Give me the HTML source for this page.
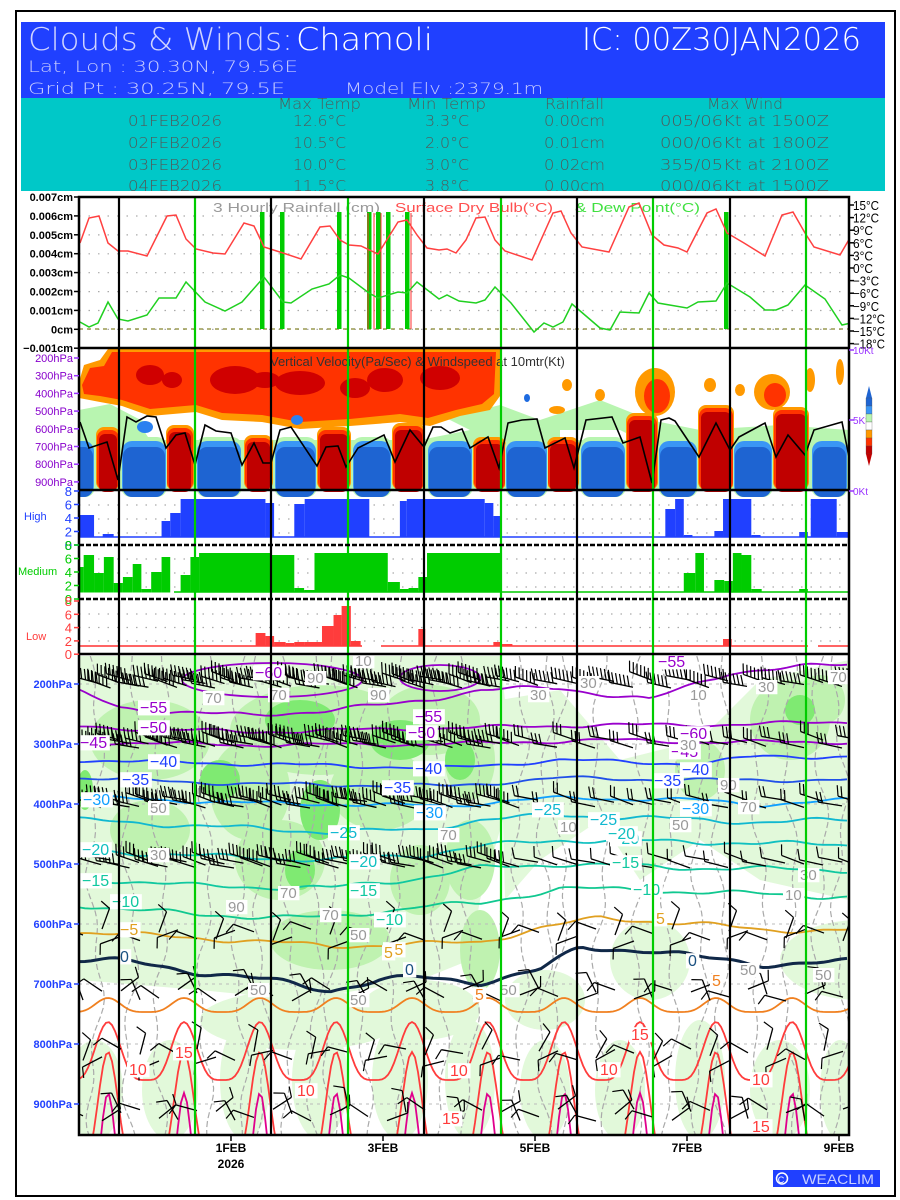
<!DOCTYPE html>
<html><head><meta charset="utf-8"><style>body{margin:0;background:#fff}svg{display:block}</style></head>
<body>
<svg id="s" width="900" height="1200" xmlns="http://www.w3.org/2000/svg" font-family="Liberation Sans, sans-serif">
<rect x="0" y="0" width="900" height="1200" fill="#fff"/>
<rect x="16" y="11" width="879" height="1185" fill="none" stroke="#000" stroke-width="2"/>
<rect x="21" y="22" width="864" height="76" fill="#2040ff"/>
<rect x="21" y="98" width="864" height="93" fill="#00c8c8"/>
<g font-family="DejaVu Sans, Liberation Sans, sans-serif" font-weight="200">
<text x="28" y="50" font-size="31" fill="#d0d4ff" textLength="265" lengthAdjust="spacingAndGlyphs">Clouds &amp; Winds:</text>
<text x="296" y="50" font-size="31" fill="#fff" textLength="137" lengthAdjust="spacingAndGlyphs">Chamoli</text>
<text x="582" y="50" font-size="31" fill="#fff" textLength="279" lengthAdjust="spacingAndGlyphs">IC: 00Z30JAN2026</text>
<text x="28" y="72" font-size="16" fill="#c8ccff" textLength="270" lengthAdjust="spacingAndGlyphs">Lat, Lon : 30.30N, 79.56E</text>
<text x="28" y="94" font-size="16" fill="#c8ccff" textLength="257" lengthAdjust="spacingAndGlyphs">Grid Pt  : 30.25N, 79.5E</text>
<text x="345" y="94" font-size="16" fill="#c8ccff" textLength="198" lengthAdjust="spacingAndGlyphs">Model Elv :2379.1m</text>
<g font-size="15" fill="#505a5a">
<text x="278" y="109" textLength="83" lengthAdjust="spacingAndGlyphs">Max Temp</text>
<text x="407" y="109" textLength="79" lengthAdjust="spacingAndGlyphs">Min Temp</text>
<text x="545" y="109" textLength="59" lengthAdjust="spacingAndGlyphs">Rainfall</text>
<text x="707" y="109" textLength="76" lengthAdjust="spacingAndGlyphs">Max Wind</text>
<text x="128" y="126" textLength="94" lengthAdjust="spacingAndGlyphs">01FEB2026</text><text x="293" y="126" textLength="53" lengthAdjust="spacingAndGlyphs">12.6°C</text><text x="425" y="126" textLength="44" lengthAdjust="spacingAndGlyphs">3.3°C</text><text x="544" y="126" textLength="61" lengthAdjust="spacingAndGlyphs">0.00cm</text><text x="660" y="126" textLength="169" lengthAdjust="spacingAndGlyphs">005/06Kt at 1500Z</text>
<text x="128" y="148" textLength="94" lengthAdjust="spacingAndGlyphs">02FEB2026</text><text x="293" y="148" textLength="53" lengthAdjust="spacingAndGlyphs">10.5°C</text><text x="425" y="148" textLength="44" lengthAdjust="spacingAndGlyphs">2.0°C</text><text x="544" y="148" textLength="61" lengthAdjust="spacingAndGlyphs">0.01cm</text><text x="660" y="148" textLength="169" lengthAdjust="spacingAndGlyphs">000/06Kt at 1800Z</text>
<text x="128" y="170" textLength="94" lengthAdjust="spacingAndGlyphs">03FEB2026</text><text x="293" y="170" textLength="53" lengthAdjust="spacingAndGlyphs">10.0°C</text><text x="425" y="170" textLength="44" lengthAdjust="spacingAndGlyphs">3.0°C</text><text x="544" y="170" textLength="61" lengthAdjust="spacingAndGlyphs">0.02cm</text><text x="660" y="170" textLength="169" lengthAdjust="spacingAndGlyphs">355/05Kt at 2100Z</text>
<text x="128" y="191" textLength="94" lengthAdjust="spacingAndGlyphs">04FEB2026</text><text x="293" y="191" textLength="53" lengthAdjust="spacingAndGlyphs">11.5°C</text><text x="425" y="191" textLength="44" lengthAdjust="spacingAndGlyphs">3.8°C</text><text x="544" y="191" textLength="61" lengthAdjust="spacingAndGlyphs">0.00cm</text><text x="660" y="191" textLength="169" lengthAdjust="spacingAndGlyphs">000/06Kt at 1500Z</text>
</g></g>
<rect x="21" y="191" width="864" height="5" fill="#fff"/>
<g id="g"></g>
<rect x="773" y="1170" width="107" height="17" fill="#2040ff"/>
<circle cx="782" cy="1178.5" r="5.5" fill="none" stroke="#fff" stroke-width="1.5"/>
<text x="781" y="1183" font-size="9" fill="#fff" text-anchor="middle">C</text>
<text x="802" y="1184" font-size="14" fill="#c8d0ff" textLength="72" lengthAdjust="spacingAndGlyphs">WEACLIM</text>
</svg>
<script>
var G=document.getElementById('g'),NS='http://www.w3.org/2000/svg';
function el(t,a,txt,p){var e=document.createElementNS(NS,t);for(var k in a)e.setAttribute(k,a[k]);if(txt!=null)e.textContent=txt;(p||G).appendChild(e);return e;}
function pl(pts,a,p){a.points=pts.map(function(q){return q[0].toFixed(1)+','+q[1].toFixed(1)}).join(' ');if(!a.fill)a.fill='none';return el('polyline',a,null,p);}
function pg(pts,fill,p){return el('polygon',{points:pts.map(function(q){return q[0]+','+q[1]}).join(' '),fill:fill},null,p);}
var X0=79,X1=849;
var clip=el('clipPath',{id:'c1'});el('rect',{x:X0,y:197,width:X1-X0,height:938},null,clip);
var P=el('g',{'clip-path':'url(#c1)'});
for(var v=0;v<8;v++){var y=216+v*18.9;el('line',{x1:X0,y1:y,x2:X1,y2:y,stroke:'#aaa','stroke-width':1.2,'stroke-dasharray':'1.5,8'},null,P);}
el('line',{x1:X0,y1:329,x2:X1,y2:329,stroke:'#9a9a50','stroke-width':1.5,'stroke-dasharray':'4,4'},null,P);
el('text',{x:213,y:212,'font-size':13,fill:'#999',textLength:167,lengthAdjust:'spacingAndGlyphs'},'3 Hourly Rainfall (cm)',P);
el('text',{x:395,y:212,'font-size':13,fill:'#ff5050',textLength:158,lengthAdjust:'spacingAndGlyphs'},'Surface Dry Bulb(°C)',P);
el('text',{x:575,y:212,'font-size':13,fill:'#40e040',textLength:125,lengthAdjust:'spacingAndGlyphs'},'& Dew Point(°C)',P);
[262,282,339,369,378,388,407,726].forEach(function(x){el('rect',{x:x-2,y:212,width:4.5,height:117,fill:'#00cc00'},null,P);});
[368,374,381,411].forEach(function(x){el('line',{x1:x,y1:213,x2:x,y2:329,stroke:'#ff3030','stroke-width':1},null,P);});
var red=[[80,243],[89,218],[99,216],[108,243],[118,251],[128,251],[147,256],[167,216],[176,215],[186,239],[196,249],[213,253],[225,254],[244,223],[254,226],[264,247],[283,253],[301,259],[320,227],[330,226],[340,240],[349,245],[361,246],[378,254],[398,222],[407,220],[417,235],[427,248],[439,250],[447,249],[456,253],[466,240],[476,218],[485,217],[495,240],[505,251],[532,260],[553,213],[561,211],[571,233],[582,247],[609,252],[629,207],[639,203],[652,235],[664,245],[678,248],[687,252],[707,213],[716,209],[727,233],[744,243],[765,256],[782,215],[793,212],[805,233],[814,247],[840,255],[851,236]];
pl(red,{stroke:'#ff4040','stroke-width':1.5},P);
var grn=[[80,322],[89,327],[98,323],[108,302],[118,319],[128,321],[147,315],[159,298],[176,298],[186,282],[205,302],[225,311],[242,302],[264,277],[283,302],[291,303],[312,289],[329,284],[340,275],[349,278],[369,293],[378,298],[398,292],[407,293],[417,282],[439,299],[447,295],[459,301],[476,303],[485,300],[495,287],[511,303],[534,332],[544,323],[553,327],[563,322],[572,304],[600,328],[610,330],[620,312],[639,313],[649,293],[658,303],[687,308],[698,302],[716,301],[727,283],[750,297],[765,310],[776,310],[788,305],[805,285],[825,299],[842,325],[851,323]];
pl(grn,{stroke:'#20d020','stroke-width':1.5},P);
var V=el('g',{},null,P);
pg([[79,440],[500,436],[650,440],[849,436],[849,490],[79,490]],'#b8f5b0',V);
pg([[79,410],[110,404],[160,430],[230,425],[300,410],[400,430],[500,405],[540,420],[600,400],[650,420],[700,430],[780,425],[849,430],[849,440],[79,440]],'#b8f5b0',V);
pg([[140,425],[180,410],[250,415],[330,420],[430,410],[470,430],[420,440],[300,440],[200,440],[150,440]],'#fff',V);
pg([[560,430],[620,430],[640,440],[560,440]],'#fff',V);
pg([[79,382],[84,365],[100,360],[108,349],[500,349],[500,396],[490,410],[460,416],[430,426],[400,422],[350,426],[300,429],[262,422],[222,420],[196,412],[150,416],[122,406],[100,402],[79,398]],'#ff9900',V);
pg([[82,385],[90,368],[104,366],[112,352],[496,352],[494,394],[482,404],[456,410],[428,418],[400,414],[350,419],[300,422],[262,415],[222,413],[196,405],[150,409],[122,400],[100,396],[84,394]],'#ff3300',V);
[[150,375,14,10],[172,380,10,8],[235,380,25,14],[300,383,25,12],[355,388,15,10],[385,380,18,12],[440,378,20,12],[265,380,15,8]].forEach(function(e){el('ellipse',{cx:e[0],cy:e[1],rx:e[2],ry:e[3],fill:'#d00000'},null,V);});
[[655,392,20,24,'#ff9900'],[657,396,13,17,'#ff3300'],[772,392,18,18,'#ff9900'],[775,395,11,12,'#ff3300'],[567,385,5,6,'#ff9900'],[557,410,8,4,'#ff9900'],[840,372,4,13,'#ff9900'],[810,380,5,12,'#ff9900'],[710,385,6,7,'#ff9900'],[600,395,5,6,'#ff9900'],[527,398,3,4,'#1e6be0'],[740,390,5,6,'#ff9900']].forEach(function(e){el('ellipse',{cx:e[0],cy:e[1],rx:e[2],ry:e[3],fill:e[4]},null,V);});
el('ellipse',{cx:145,cy:427,rx:8,ry:6,fill:'#2a80f0'},null,V);el('ellipse',{cx:297,cy:420,rx:6,ry:5,fill:'#2a80f0'},null,V);
var reds=[[97,119,432],[167,193,430],[245,272,440],[318,350,432],[393,424,428],[474,505,442],[548,578,442],[627,657,418],[699,733,410],[774,808,412]];
reds.forEach(function(r){var a=r[0],b=r[1],t=r[2];
 el('rect',{x:a-1,y:t-5,width:b-a+2,height:490-t+5,rx:8,fill:'#ff9900'},null,V);
 el('rect',{x:a,y:t-2,width:b-a,height:490-t+2,rx:8,fill:'#ff3300'},null,V);
 el('rect',{x:a+2,y:t+2,width:b-a-4,height:490-t,rx:6,fill:'#c00000'},null,V);});
var blues=[[70,95],[121,167],[196,242],[274,317],[352,392],[427,473],[505,548],[580,626],[658,698],[733,773],[811,848]];
blues.forEach(function(r){var a=r[0],b=r[1];
 el('rect',{x:a,y:437,width:b-a,height:60,rx:10,fill:'#b8f5b0'},null,V);
 el('rect',{x:a+1,y:441,width:b-a-2,height:55,rx:10,fill:'#3a96f5'},null,V);
 el('rect',{x:a+2,y:447,width:b-a-4,height:50,rx:9,fill:'#1e64d2'},null,V);});
el('text',{x:270,y:366,'font-size':13,fill:'#333'},'Vertical Velocity(Pa/Sec) & Windspeed at 10mtr(Kt)',V);
var ws=[[80,422],[89,448],[107,442],[118,480],[127,417],[136,422],[147,416],[156,417],[166,448],[176,435],[185,433],[195,465],[205,425],[216,431],[231,433],[242,465],[254,443],[263,463],[271,463],[280,430],[291,427],[317,466],[326,447],[338,446],[346,467],[358,448],[384,435],[395,462],[410,430],[424,447],[433,427],[441,427],[450,433],[462,429],[470,448],[488,437],[499,468],[508,423],[522,420],[537,419],[545,448],[565,438],[574,468],[586,420],[612,417],[623,443],[640,437],[652,483],[661,420],[669,418],[675,421],[699,457],[716,423],[730,450],[739,437],[765,423],[776,457],[788,435],[805,455],[814,430],[842,422],[849,457]];
pl(ws,{stroke:'#000','stroke-width':1.6},V);
function dots(y0,y1,step){for(var y=y0;y<=y1;y+=step)el('line',{x1:X0,y1:y,x2:X1,y2:y,stroke:'#aaa','stroke-width':1.2,'stroke-dasharray':'1.5,8'},null,P);}
dots(505,533,14);dots(559,587,14);dots(614,641,13.5);
function bars(list,base,col){list.forEach(function(b){el('rect',{x:b[0]/1.733,y:b[2],width:(b[1]-b[0])/1.733,height:base-b[2],fill:col},null,P);});}
el('line',{x1:X0,y1:537,x2:X1,y2:537,stroke:'#2040ff','stroke-width':1.5},null,P);
bars([[138,163,515],[178,197,534],[280,295,521],[295,313,513],[313,460,499],[460,475,503],[510,528,504],[528,640,499],[693,705,501],[705,840,499],[840,855,503],[855,868,516],[1153,1170,509],[1170,1185,499],[1185,1200,535],[1238,1253,531],[1253,1302,499],[1302,1318,535],[1385,1400,532],[1405,1450,499],[1450,1475,532]],537.5,'#2040ff');
el('line',{x1:X0+95,y1:592,x2:X1,y2:592,stroke:'#00cc00','stroke-width':1.5},null,P);
bars([[138,145,567],[145,163,555],[163,180,573],[180,197,557],[197,213,583],[213,230,577],[230,245,564],[245,262,589],[262,280,572],[280,295,557],[313,330,575],[330,345,557],[345,470,553],[470,510,555],[510,527,588],[527,545,590],[545,672,553],[672,693,582],[693,708,589],[708,725,588],[725,740,577],[740,870,553],[1185,1205,573],[1205,1220,553],[1238,1255,580],[1255,1270,581],[1270,1285,553],[1285,1302,555],[1302,1320,589],[1385,1400,589]],592.5,'#00cc00');
el('line',{x1:X0,y1:646,x2:362,y2:646,stroke:'#ff3030','stroke-width':1.5},null,P);
el('line',{x1:381,y1:646,x2:808,y2:646,stroke:'#ff3030','stroke-width':1.5},null,P);
el('line',{x1:818,y1:646,x2:X1,y2:646,stroke:'#ff3030','stroke-width':1.5},null,P);
bars([[443,460,633],[460,475,636],[475,495,642],[495,510,643],[510,527,642],[527,558,642],[558,578,626],[578,592,615],[592,608,606],[608,625,641],[725,737,629],[855,870,642],[870,888,644],[1253,1268,639]],646.5,'#ff3c3c');
var B=el('g',{},null,P);
var lg='#e2f9da',mg='#bff2b0',bg='#7fea72';
pg([[79,656],[500,656],[505,700],[520,760],[500,830],[480,900],[470,960],[420,980],[300,1000],[200,990],[79,980]],lg,B);
pg([[500,700],[560,690],[620,760],[700,740],[760,680],[849,660],[849,900],[760,880],[700,840],[640,880],[600,820],[540,860],[505,900]],lg,B);
[[95,1090,28,50],[170,1090,28,50],[245,1080,25,60],[320,1080,28,60],[400,1080,28,60],[470,1080,25,60],[545,1090,25,50],[620,1090,25,50],[700,1080,25,60],[780,1090,30,50],[840,1090,20,50],[300,1020,100,30],[420,1010,60,30],[650,960,40,40],[860,960,80,40],[545,1000,40,30]].forEach(function(e){el('ellipse',{cx:e[0],cy:e[1],rx:e[2],ry:e[3],fill:lg},null,B);});
[[150,740,60,40],[320,730,90,45],[430,720,50,35],[250,790,40,50],[380,790,50,40],[280,860,45,40],[420,880,30,35],[150,830,40,30],[330,940,60,30],[470,760,25,40],[790,720,40,40],[700,770,25,30],[820,700,25,25],[470,860,25,40],[480,950,20,40]].forEach(function(e){el('ellipse',{cx:e[0],cy:e[1],rx:e[2],ry:e[3],fill:mg},null,B);});
[[300,720,35,20],[400,740,30,20],[220,780,20,20],[320,810,20,30],[300,870,15,20],[460,760,15,20],[85,790,8,20],[800,710,15,15]].forEach(function(e){el('ellipse',{cx:e[0],cy:e[1],rx:e[2],ry:e[3],fill:bg},null,B);});
function wav(x,amp,ph){var pts=[];for(var y=656;y<=1136;y+=8){pts.push([x+amp*Math.sin(y/37+ph)+amp*0.6*Math.sin(y/13+ph*2),y]);}return pts;}
[95,130,160,205,240,262,290,315,330,365,395,440,470,520,545,560,600,640,670,700,720,760,790,820,840].forEach(function(x,i){pl(wav(x,6,i),{stroke:'#aaa','stroke-width':1.2,'stroke-dasharray':'6,3'},B);});
[684,744,804,864,924,984,1044,1104].forEach(function(y){el('line',{x1:X0,y1:y,x2:X1,y2:y,stroke:'#bbb','stroke-width':1,'stroke-dasharray':'3,4'},null,B);});
function iso(base,amp,col,w,seed){var pts=[];for(var x=79;x<=850;x+=6){var b=base(x);pts.push([x,b+amp*Math.sin(x/23+seed)+amp*0.5*Math.sin(x/9+seed*3)]);}pl(pts,{stroke:col,'stroke-width':w},B);}
function lin(ctrl){return function(x){for(var i=0;i<ctrl.length-1;i++){if(x<=ctrl[i+1][0]){var t=(x-ctrl[i][0])/(ctrl[i+1][0]-ctrl[i][0]);return ctrl[i][1]+t*(ctrl[i+1][1]-ctrl[i][1]);}}return ctrl[ctrl.length-1][1];};}
iso(lin([[79,692],[120,708],[250,716],[400,704],[480,690],[560,688],[650,700],[730,672],[849,664]]),2,'#9900cc',1.8,1);
iso(lin([[79,727],[250,732],[450,728],[600,725],[700,725],[849,722]]),1.5,'#9900cc',1.8,2);
iso(lin([[79,742],[250,745],[450,744],[600,740],[700,742],[849,742]]),1.5,'#9900cc',1.8,3);
iso(lin([[79,760],[250,764],[450,768],[560,760],[700,764],[760,756],[849,757]]),1.5,'#2040ff',1.8,4);
iso(lin([[79,778],[250,784],[450,786],[560,778],[700,780],[849,780]]),1.5,'#2050e8',1.8,5);
iso(lin([[79,797],[250,803],[450,806],[520,800],[560,798],[700,800],[760,805],[849,800]]),1.5,'#10a0ff',1.8,6);
iso(lin([[79,820],[200,826],[330,832],[420,830],[480,820],[560,815],[700,820],[760,822],[849,820]]),2,'#10b8d0',1.8,7);
iso(lin([[79,850],[200,856],[330,860],[420,855],[480,846],[560,840],[700,842],[849,845]]),2,'#10c0c0',1.8,8);
iso(lin([[79,878],[200,886],[330,888],[420,878],[480,868],[560,864],[700,868],[849,870]]),2,'#10c8a0',1.8,9);
iso(lin([[79,905],[200,915],[330,918],[420,906],[480,904],[560,888],[700,892],[849,897]]),2,'#10c890',1.8,10);
iso(lin([[79,932],[200,938],[330,946],[420,944],[480,942],[540,928],[600,918],[700,924],[760,930],[849,930]]),2,'#e0a020',1.8,11);
iso(lin([[79,960],[130,962],[200,972],[280,982],[330,990],[380,980],[420,978],[480,982],[540,970],[580,948],[650,950],[700,958],[760,964],[849,962]]),2.5,'#102848',3,12);
function arch(top,bot,pw,col,w){var pts=[];for(var x=79;x<=850;x+=3){var c=Math.cos(2*Math.PI*(x-108)/76);var f=Math.pow((1+c)/2,pw);pts.push([x,bot-(bot-top)*f]);}pl(pts,{stroke:col,'stroke-width':w},B);}
arch(998,1012,2,'#f08020',1.8);
arch(1022,1080,2,'#ff3c3c',1.8);
arch(1052,1170,3,'#ff3c3c',1.8);
arch(1093,1200,6,'#e0008c',1.8);
el('ellipse',{cx:272,cy:680,rx:90,ry:17,fill:'none',stroke:'#9900cc','stroke-width':1.8},null,B);
el('ellipse',{cx:440,cy:678,rx:40,ry:13,fill:'none',stroke:'#9900cc','stroke-width':1.8},null,B);
function barb(x,y,ang,len,n,fl){var a=ang*Math.PI/180,dx=Math.cos(a),dy=Math.sin(a);var x2=x+dx*len,y2=y+dy*len;el('line',{x1:x,y1:y,x2:x2,y2:y2,stroke:'#000','stroke-width':1.3},null,B);
 for(var j=0;j<n;j++){var bx=x2-dx*j*4,by=y2-dy*j*4;var b=a+(fl?-1.2:1.2);el('line',{x1:bx,y1:by,x2:bx+Math.cos(b)*11,y2:by+Math.sin(b)*11,stroke:'#000','stroke-width':1.2},null,B);}}
var rows=[[684,200,6],[744,300,5],[804,400,4],[864,500,3]];
for(var i=0;i<82;i++){var x=79+i*9.5;
 for(var k=0;k<4;k++){var r=rows[k];var strong=(x<500)||(k==0);var n=strong?r[2]:Math.max(1,r[2]-2);var yy=r[0]+4*Math.sin(i*1.7+k);
  if(x>500&&(i%2))continue;
  barb(x+22,yy,195+6*Math.sin(i+k),24,n,false);}
 var low=[[935,30],[995,60],[1055,20],[1115,15]];
 if(i%2==0)low.forEach(function(l,j){var ang=[200,250,290,205,160,330][(i+j)%6]+10*Math.sin(i*j);barb(x+4,l[0]+6*Math.sin(i*2.3+j),ang,22,1,true);});}
function lab(x,y,t,col,fs){fs=fs||16;var w=t.length*fs*0.58;el('rect',{x:x-2,y:y-fs*0.8,width:w+4,height:fs*0.95,fill:'#fff'},null,B);el('text',{x:x,y:y,'font-size':fs,fill:col},t,B);}
lab(255,678,'−60','#9900cc');lab(140,713,'−55','#9900cc');lab(140,733,'−50','#9900cc');lab(80,748,'−45','#9900cc');
lab(150,767,'−40','#2040ff');lab(122,785,'−35','#2040ff');lab(83,805,'−30','#10a0ff');lab(82,855,'−20','#10c0c0');lab(82,886,'−15','#10c8a0');lab(112,907,'−10','#10c8a0');lab(120,935,'−5','#e0a020');lab(120,962,'0','#1a5080');
lab(415,722,'−55','#9900cc');lab(408,738,'−50','#9900cc');lab(415,774,'−40','#2040ff');lab(384,793,'−35','#2040ff');lab(416,818,'−30','#10a0ff');lab(330,838,'−25','#10b8d0');lab(350,867,'−20','#10c0c0');lab(350,896,'−15','#10c8a0');lab(376,925,'−10','#10c8a0');lab(385,955,'−5','#e0a020');lab(405,975,'0','#1a5080');
lab(590,825,'−25','#10b8d0');lab(612,844,'−20','#10c0c0');lab(612,868,'−15','#10c8a0');lab(633,895,'−10','#10c8a0');lab(656,924,'5','#e0a020');lab(688,966,'0','#1a5080');lab(712,986,'5','#f08020');
lab(680,739,'−60','#9900cc');lab(671,757,'−45','#9900cc');lab(682,775,'−40','#2040ff');lab(654,786,'−35','#2040ff');lab(682,814,'−30','#10a0ff');lab(534,815,'−25','#10b8d0');lab(608,839,'−20','#10c0c0');lab(658,667,'−55','#9900cc');
lab(129,1075,'10','#ff3c3c');lab(175,1058,'15','#ff3c3c');lab(297,1096,'10','#ff3c3c');lab(450,1076,'10','#ff3c3c');lab(600,1075,'10','#ff3c3c');lab(631,1040,'15','#ff3c3c');lab(752,1085,'10','#ff3c3c');lab(442,1124,'15','#ff3c3c');lab(752,1132,'15','#ff3c3c');lab(475,1000,'5','#f08020');lab(384,958,'5','#e0a020');
[[355,666,'10'],[307,683,'90'],[270,700,'70'],[205,703,'70'],[370,700,'90'],[580,688,'30'],[690,700,'10'],[830,682,'70'],[720,790,'90'],[740,812,'70'],[672,830,'50'],[280,898,'70'],[228,912,'90'],[322,920,'70'],[350,940,'50'],[800,880,'30'],[785,900,'10'],[250,995,'50'],[350,1005,'50'],[500,995,'50'],[740,975,'50'],[815,980,'50'],[150,860,'30'],[150,813,'50'],[560,832,'10'],[440,840,'70'],[680,750,'30'],[530,700,'30'],[758,692,'30']].forEach(function(t){lab(t[0],t[1],t[2],'#999',15);});
[119,271,424,577,730].forEach(function(x){el('line',{x1:x,y1:197,x2:x,y2:1135,stroke:'#000','stroke-width':2.2},null,P);});
[195,348,501,653,806].forEach(function(x){el('line',{x1:x,y1:197,x2:x,y2:1135,stroke:'#00cc00','stroke-width':2.2},null,P);});
el('rect',{x:X0,y:197,width:X1-X0,height:938,fill:'none',stroke:'#000','stroke-width':2.5});
[348,490,654].forEach(function(y){el('line',{x1:X0,y1:y,x2:X1,y2:y,stroke:'#000','stroke-width':2.5});});
[545,599].forEach(function(y){el('line',{x1:X0,y1:y,x2:X1,y2:y,stroke:'#000','stroke-width':2.5,'stroke-dasharray':'5,2'});});
var ra=['0.007cm','0.006cm','0.005cm','0.004cm','0.003cm','0.002cm','0.001cm','0cm','−0.001cm'];
ra.forEach(function(t,i){var y=197+i*18.9;el('line',{x1:74,y1:y,x2:79,y2:y,stroke:'#000','stroke-width':1.5});el('text',{x:73,y:y+4,'font-size':11,'text-anchor':'end',fill:'#000','font-weight':'bold'},t);});
var ta=['15°C','12°C','9°C','6°C','3°C','0°C','−3°C','−6°C','−9°C','−12°C','−15°C','−18°C'];
ta.forEach(function(t,i){var y=205+i*12.6;el('line',{x1:849,y1:y,x2:854,y2:y,stroke:'#000','stroke-width':1.5});el('text',{x:853,y:y+5,'font-size':13,fill:'#000',textLength:t.length>4?32:t.length>3?26:20,lengthAdjust:'spacingAndGlyphs'},t);});
['200hPa','300hPa','400hPa','500hPa','600hPa','700hPa','800hPa','900hPa'].forEach(function(t,i){var y=358+i*17.7;el('line',{x1:74,y1:y,x2:79,y2:y,stroke:'#9933ff','stroke-width':1.5});el('text',{x:73,y:y+4,'font-size':11,'text-anchor':'end',fill:'#8800cc'},t);});
[['10Kt',350],['5Kt',420],['0Kt',491]].forEach(function(t){el('line',{x1:849,y1:t[1],x2:854,y2:t[1],stroke:'#9933ff','stroke-width':1.5});el('text',{x:853,y:t[1]+4,'font-size':10,fill:'#9933ff'},t[0]);});
function cax(top,step,col,name,nx,ny){['8','6','4','2','0'].forEach(function(t,i){var y=top+i*step;el('line',{x1:74,y1:y,x2:79,y2:y,stroke:col,'stroke-width':1.5});el('text',{x:72,y:y+5,'font-size':13,'text-anchor':'end',fill:col},t);});el('text',{x:nx,y:ny,'font-size':11,fill:col},name);}
cax(491,13.5,'#2040ff','High',24,520);cax(545,13.5,'#00cc00','Medium',18,575);cax(601,13.3,'#ff3c3c','Low',26,640);
['200hPa','300hPa','400hPa','500hPa','600hPa','700hPa','800hPa','900hPa'].forEach(function(t,i){var y=684+i*60;el('line',{x1:74,y1:y,x2:79,y2:y,stroke:'#2040ff','stroke-width':1.5});el('text',{x:72,y:y+4,'font-size':11,'text-anchor':'end',fill:'#2040ff','font-weight':'bold'},t);});
[[231,'1FEB'],[383,'3FEB'],[535,'5FEB'],[687,'7FEB'],[839,'9FEB']].forEach(function(t){el('line',{x1:t[0],y1:1135,x2:t[0],y2:1141,stroke:'#000','stroke-width':1.5});el('text',{x:t[0],y:1152,'font-size':12,'text-anchor':'middle','font-weight':'bold',fill:'#000'},t[1]);});
el('text',{x:231,y:1168,'font-size':12,'text-anchor':'middle','font-weight':'bold',fill:'#000'},'2026');
var cb=['#1e64d2','#3a96f5','#b8f5b0','#fff','#ff9900','#ff3300','#c00000'];
pg([[866,398],[869,386],[872,398]],'#1e64d2');
cb.forEach(function(c,i){el('rect',{x:866,y:398+i*8,width:6,height:8,fill:c,stroke:'#555','stroke-width':0.3});});
pg([[866,454],[869,466],[872,454]],'#c00000');
</script>
</body></html>
